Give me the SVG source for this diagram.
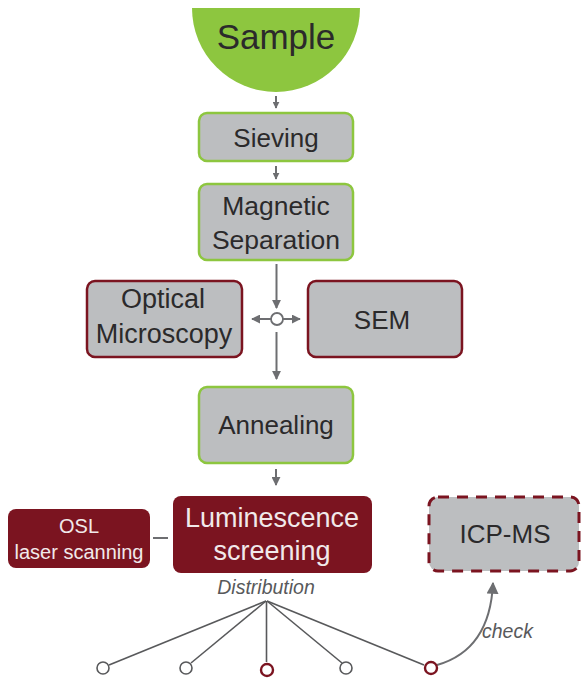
<svg xmlns="http://www.w3.org/2000/svg" width="581" height="680" viewBox="0 0 581 680">
<defs>
<marker id="ah" viewBox="0 0 10 10" refX="9" refY="5" markerWidth="7" markerHeight="7" orient="auto" markerUnits="userSpaceOnUse">
<path d="M0,0 L10,5 L0,10 z" fill="#6d6e71"/>
</marker>
<marker id="ahb" viewBox="0 0 10 10" refX="9" refY="5" markerWidth="12" markerHeight="12" orient="auto" markerUnits="userSpaceOnUse">
<path d="M0,0 L10,5 L0,10 z" fill="#6d6e71"/>
</marker>
<marker id="ahm" viewBox="0 0 10 10" refX="9" refY="5" markerWidth="9" markerHeight="9" orient="auto" markerUnits="userSpaceOnUse">
<path d="M0,0 L10,5 L0,10 z" fill="#6d6e71"/>
</marker>
</defs>
<style>
.t{font-family:"Liberation Sans",Arial,sans-serif;fill:#2b2a2b;text-anchor:middle}
.w{fill:#f1e9ea}
.g{fill:#bcbec0;stroke:#8dc63f;stroke-width:2.5}
.m{fill:#bcbec0;stroke:#7b1420;stroke-width:2.5}
.d{fill:#7b1420}
.c{stroke:#6d6e71;stroke-width:2;fill:none}
.f{stroke:#58595b;stroke-width:1.6;fill:none}
.i{font-family:"Liberation Sans",Arial,sans-serif;font-style:italic;fill:#58595b}
</style>
<g id="connectors">
<line class="c" x1="276" y1="96" x2="276" y2="108" marker-end="url(#ah)"/>
<line class="c" x1="276" y1="166" x2="276" y2="179" marker-end="url(#ah)"/>
<line class="c" x1="276.5" y1="264" x2="276.5" y2="308" marker-end="url(#ahm)"/>
<line class="c" x1="271" y1="319" x2="252" y2="319" marker-end="url(#ahm)"/>
<line class="c" x1="283" y1="319" x2="300" y2="319" marker-end="url(#ahm)"/>
<circle cx="277" cy="319" r="6" fill="#fff" stroke="#6d6e71" stroke-width="1.8"/>
<line class="c" x1="276.5" y1="332" x2="276.5" y2="379" marker-end="url(#ahm)"/>
<line class="c" x1="276" y1="469" x2="276" y2="485" marker-end="url(#ahm)"/>
<line class="c" x1="153" y1="538" x2="168" y2="538"/>
<line class="f" x1="266" y1="601" x2="109" y2="665"/>
<line class="f" x1="266" y1="601" x2="191" y2="663"/>
<line class="f" x1="266.5" y1="601" x2="266.5" y2="662"/>
<line class="f" x1="267" y1="601" x2="342" y2="663"/>
<line class="f" x1="267" y1="601" x2="424" y2="665"/>
<path class="c" d="M437,665 Q490,650 493,583" marker-end="url(#ahb)"/>
<circle cx="103" cy="668" r="6" fill="#fff" stroke="#58595b" stroke-width="1.6"/>
<circle cx="186" cy="668" r="6" fill="#fff" stroke="#58595b" stroke-width="1.6"/>
<circle cx="267" cy="670" r="6" fill="#fff" stroke="#7b1420" stroke-width="2.4"/>
<circle cx="346" cy="668" r="6" fill="#fff" stroke="#58595b" stroke-width="1.6"/>
<circle cx="431" cy="668" r="6" fill="#fff" stroke="#7b1420" stroke-width="2.4"/>
<text class="i" x="266" y="594" font-size="19.5" text-anchor="middle">Distribution</text>
<text class="i" x="482" y="638" font-size="19.5">check</text>
</g>
<g id="sample">
<path d="M192,8 L360,8 A84,84 0 0 1 192,8 z" fill="#8dc63f"/>
<text class="t" x="276" y="49" font-size="35">Sample</text>
</g>
<g id="sieving">
<rect class="g" x="199" y="113" width="154" height="48" rx="8"/>
<text class="t" x="276" y="147" font-size="26">Sieving</text>
</g>
<g id="magnetic">
<rect class="g" x="199" y="184" width="154" height="76" rx="8"/>
<text class="t" x="276" y="215" font-size="26.5">Magnetic</text>
<text class="t" x="276" y="249" font-size="26.5">Separation</text>
</g>
<g id="optical">
<rect class="m" x="87" y="281" width="155" height="76" rx="8"/>
<text class="t" x="163" y="308" font-size="27">Optical</text>
<text class="t" x="164" y="343" font-size="27">Microscopy</text>
</g>
<g id="sem">
<rect class="m" x="308" y="281" width="154" height="76" rx="8"/>
<text class="t" x="382" y="329" font-size="26">SEM</text>
</g>
<g id="annealing">
<rect class="g" x="199" y="387" width="154" height="76" rx="8"/>
<text class="t" x="276" y="434" font-size="26">Annealing</text>
</g>
<g id="osl">
<rect class="d" x="8" y="509" width="142" height="59" rx="8"/>
<text class="t w" x="79" y="533" font-size="20">OSL</text>
<text class="t w" x="79" y="559" font-size="20">laser scanning</text>
</g>
<g id="luminescence">
<rect class="d" x="173" y="496" width="199" height="77" rx="8"/>
<text class="t w" x="272" y="527" font-size="27">Luminescence</text>
<text class="t w" x="272" y="560" font-size="27">screening</text>
</g>
<g id="icpms">
<rect x="429" y="497" width="150" height="74" rx="9" fill="#bcbec0" stroke="#7b1420" stroke-width="3" stroke-dasharray="11,8"/>
<text class="t" x="505" y="543" font-size="26">ICP-MS</text>
</g>
</svg>
